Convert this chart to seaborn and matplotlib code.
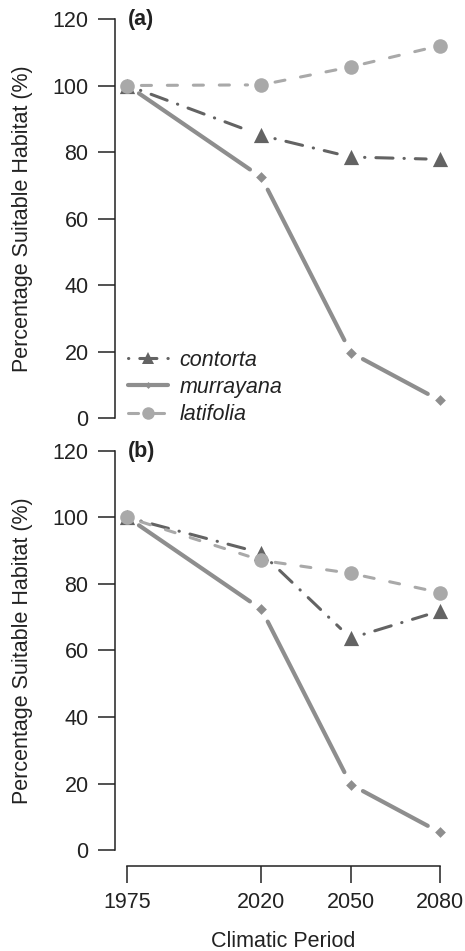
import matplotlib
matplotlib.use("Agg")
import matplotlib.pyplot as plt
import seaborn as sns
from matplotlib.lines import Line2D

# climatic periods (x) and suitable habitat (%) per variety
years = [1975, 2020, 2050, 2080]
species = ["contorta", "murrayana", "latifolia"]

# panel (a)
contorta_a = [100, 85.0, 78.5, 77.8]
murrayana_a = [100, 72.4, 19.7, 5.3]
latifolia_a = [100, 100.2, 105.6, 112.0]

# panel (b)
contorta_b = [100, 89.3, 63.7, 71.9]
murrayana_b = [100, 72.4, 19.7, 5.3]
latifolia_b = [100, 87.1, 83.2, 77.4]

y_ticks = [0, 20, 40, 60, 80, 100, 120]
panel_labels = ["(a)", "(b)"]

sns.set_style("ticks")
plt.rcParams["font.family"] = ["Liberation Sans", "DejaVu Sans"]
ink = "#222222"

styles = {
    "contorta": dict(color="#636363", ls=(0, (0.1, 3.6, 5.6, 3.6)), lw=2.2,
                     marker="^", s=120, ms=9),
    "murrayana": dict(color="#8e8e8e", ls="-", lw=3.0,
                      marker="D", s=30, ms=3.5),
    "latifolia": dict(color="#a9a9a9", ls=(0, (3.3, 5.2)), lw=2.2,
                      marker="o", s=110, ms=9),
}
GAP = 10  # points left open round each marker, like R type="b"


def draw_series(ax, vals, st):
    # line segments, shortened at both ends
    for i in range(len(years) - 1):
        ax.annotate("", xy=(years[i + 1], vals[i + 1]), xytext=(years[i], vals[i]),
                    xycoords="data", textcoords="data",
                    arrowprops=dict(arrowstyle="-", shrinkA=GAP, shrinkB=GAP,
                                    color=st["color"], lw=st["lw"],
                                    linestyle=st["ls"], capstyle="round"))
    sns.scatterplot(x=years, y=vals, ax=ax, color=st["color"], marker=st["marker"],
                    s=st["s"], linewidth=0, zorder=3, legend=False)


def style_axis(ax, show_x):
    ax.set_xlim(1970.8, 2084.2)
    ax.set_ylim(-4.8, 124.8)
    ax.set_yticks(y_ticks)
    ax.set_xticks(years)
    for side in ["top", "right"]:
        ax.spines[side].set_visible(False)
    ax.spines["left"].set_bounds(0, 120)
    ax.spines["left"].set_linewidth(1.1)
    ax.spines["left"].set_color(ink)
    if show_x:
        ax.spines["bottom"].set_bounds(1975, 2080)
        ax.spines["bottom"].set_linewidth(1.1)
        ax.spines["bottom"].set_color(ink)
    else:
        ax.spines["bottom"].set_visible(False)
        ax.tick_params(axis="x", bottom=False, labelbottom=False)
    ax.tick_params(length=12, width=1.1, pad=7, labelsize=15.5,
                   color=ink, labelcolor=ink)
    ax.set_xlabel("")
    ax.set_ylabel("")


fig = plt.figure(figsize=(4.65, 9.51), dpi=100)
ax_a = fig.add_axes([0.2473, 0.5436, 0.7258, 0.4532])
ax_b = fig.add_axes([0.2473, 0.0894, 0.7258, 0.4532])

data = [
    {"contorta": contorta_a, "murrayana": murrayana_a, "latifolia": latifolia_a},
    {"contorta": contorta_b, "murrayana": murrayana_b, "latifolia": latifolia_b},
]

for k, (ax, d) in enumerate(zip([ax_a, ax_b], data)):
    for sp in species:
        draw_series(ax, d[sp], styles[sp])
    style_axis(ax, show_x=(k == 1))
    ax.text(0.0385, 0.961, panel_labels[k], transform=ax.transAxes,
            fontsize=15.5, fontweight="bold", color=ink, ha="left", va="center")
    # y label centred on each panel
    pos = ax.get_position()
    fig.text(23 / 465, pos.y0 + pos.height / 2, "Percentage Suitable Habitat (%)",
             rotation=90, ha="center", va="center", fontsize=15.5, color=ink)

fig.text(283.5 / 465, 1 - 947 / 951, "Climatic Period", ha="center",
         va="baseline", fontsize=15.5, color=ink)

handles = [
    Line2D([], [], color=styles[sp]["color"], lw=styles[sp]["lw"],
           ls=styles[sp]["ls"], marker=styles[sp]["marker"],
           markersize=styles[sp]["ms"], markeredgewidth=0,
           dash_capstyle="round")
    for sp in species
]
leg = ax_a.legend(handles, species, loc="upper left",
                  bbox_to_anchor=(0.0385, 0.196), frameon=False, borderpad=0,
                  borderaxespad=0, handlelength=1.85, handletextpad=0.55,
                  labelspacing=0.3, fontsize=15.5)
for t in leg.get_texts():
    t.set_fontstyle("italic")
    t.set_color(ink)

fig.savefig("out.png", dpi=100)
